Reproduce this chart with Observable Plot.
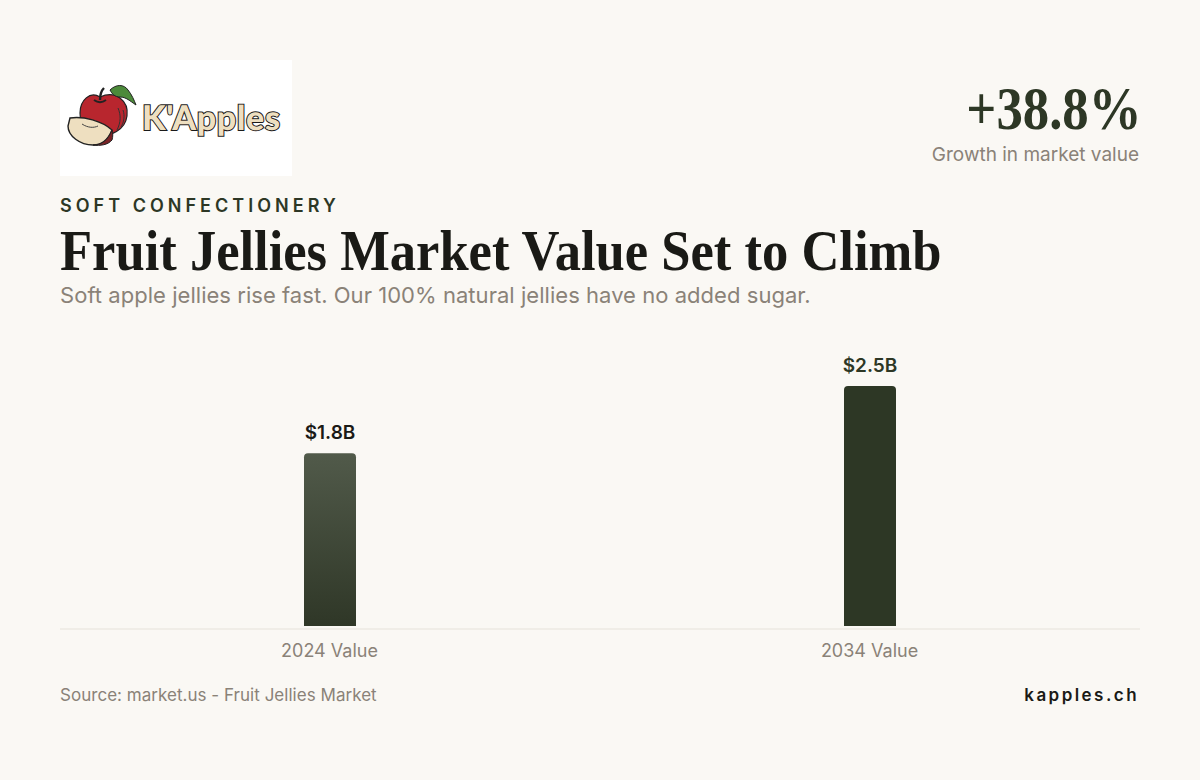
<!DOCTYPE html>
<html><head><meta charset="utf-8">
<script src="https://cdn.jsdelivr.net/npm/d3@7"></script>
<script src="https://cdn.jsdelivr.net/npm/@observablehq/plot@0.6"></script>
<style>
html,body{margin:0;padding:0;background:#faf8f4;}
body{width:1200px;height:780px;position:relative;overflow:hidden;font-family:Inter,sans-serif;}
.a{position:absolute;white-space:nowrap;}
#logo{left:60px;top:60px;width:232px;height:116px;background:#fff;}
#kpi{right:58px;top:74px;font:700 61px/70px "Liberation Serif",serif;color:#2d3725;transform:scaleX(.865);transform-origin:right center;}
#kpil{right:61px;top:144px;font:400 19px/22px Inter;color:#8a8278;}
#eyebrow{left:60px;top:194.5px;font:600 18px/21px Inter;letter-spacing:4.02px;color:#2d3725;}
#title{left:60px;top:218px;font:700 58px/66px "Liberation Serif",serif;color:#1a1a16;transform:scaleX(.906);transform-origin:left center;}
#sub{left:60px;top:283px;font:400 22px/25px Inter;letter-spacing:.04px;color:#8a8278;}
#chart{left:0;top:340px;}
#src{left:60px;top:685px;font:400 17px/20px Inter;letter-spacing:.03px;color:#8a8278;}
#site{right:61px;top:685px;font:600 17px/20px Inter;letter-spacing:2.45px;color:#1a1a16;}
</style></head><body>
<div class="a" id="logo"><svg width="232" height="116" viewBox="60 60 232 116">
<path d="M100 97C90 91 80 100 80 113C80 126 88 134 100 135C110 136 125 131 127 116C129 101 116 90 100 97Z" fill="#b8262e" stroke="#222" stroke-width="1.2"/>
<path d="M100 100C100 94 102 90 104 88" fill="none" stroke="#222" stroke-width="2.4"/>
<path d="M94 100C98 103 102 103 106 100" fill="none" stroke="#222" stroke-width="2"/>
<path d="M110 90C116 84 124 84 128 90C132 95 134 100 136 105C130 101 126 97 120 97C115 97 112 94 110 90Z" fill="#4c8a3a" stroke="#222" stroke-width="1"/>
<path d="M118 108C121 115 121 122 117 130M123 110C125 116 124 122 121 127" fill="none" stroke="#333" stroke-width="1"/>
<path d="M70 118C84 116 102 121 112 130C108 140 102 145 93 145C80 145 68 136 68 126Z" fill="#eedfc0" stroke="#222" stroke-width="1.4"/>
<path d="M112 130C108 140 102 145 93 145C100 146 108 145 112 140C113 137 113 133 112 130Z" fill="#7a2226" stroke="#222" stroke-width="1"/>
<path d="M82 124C88 128 94 128 98 126" fill="none" stroke="#444" stroke-width="1"/>
<text x="142" y="130" font-family="Lato" font-weight="900" font-size="34" fill="#eedfc0" stroke="#1a1a1a" stroke-width="2" paint-order="stroke" textLength="138" lengthAdjust="spacing" style="text-rendering:geometricPrecision">K'Apples</text>
</svg></div>
<div class="a" id="kpi">+38.8%</div>
<div class="a" id="kpil">Growth in market value</div>
<div class="a" id="eyebrow">SOFT CONFECTIONERY</div>
<div class="a" id="title">Fruit Jellies Market Value Set to Climb</div>
<div class="a" id="sub">Soft apple jellies rise fast. Our 100% natural jellies have no added sugar.</div>
<div class="a" id="chart"></div>
<div class="a" id="src">Source: market.us - Fruit Jellies Market</div>
<div class="a" id="site">kapples.ch</div>
<script>
const categories = ["2024 Value", "2034 Value"];
const values = [1.8, 2.5];
const valueLabels = ["$1.8B", "$2.5B"];
const idx = categories.map((_, i) => i);

function gradient() {
  const svg = d3.create("svg:defs");
  const g = svg.append("linearGradient").attr("id", "barGrad").attr("x1", 0).attr("y1", 0).attr("x2", 0).attr("y2", 1);
  g.append("stop").attr("offset", "0%").attr("stop-color", "#515a4a");
  g.append("stop").attr("offset", "100%").attr("stop-color", "#2f3727");
  return svg.node();
}

const plot = Plot.plot({
  width: 1200, height: 330,
  marginLeft: 60, marginRight: 60, marginTop: 46, marginBottom: 44,
  style: {background: "transparent", fontFamily: "Inter", overflow: "visible"},
  x: {domain: categories, paddingInner: 0.9037, paddingOuter: 0.45185, axis: null},
  y: {domain: [0, 2.5], axis: null},
  marks: [
    gradient,
    Plot.barY(idx, {x: i => categories[i], y: i => values[i],
      fill: {value: i => i === 0 ? "url(#barGrad)" : "#2d3725", scale: null},
      rx1y1: 4, rx2y1: 4}),
    Plot.ruleY([0], {stroke: "#e6e2da", strokeWidth: 1, dy: 2.5}),
    Plot.text(idx, {x: i => categories[i], text: i => categories[i], frameAnchor: "bottom", dy: 30, fontSize: 18, fill: "#8a8278", fontWeight: 400, dx: -1}),
    Plot.text(idx, {x: i => categories[i], y: i => values[i], text: i => valueLabels[i], dy: -21, fontSize: 19, fontWeight: 600, dx: -0.5,
      fill: {value: i => i === 0 ? "#1a1a16" : "#2d3725", scale: null}})
  ]
});
document.getElementById("chart").appendChild(plot);
</script>
</body></html>
